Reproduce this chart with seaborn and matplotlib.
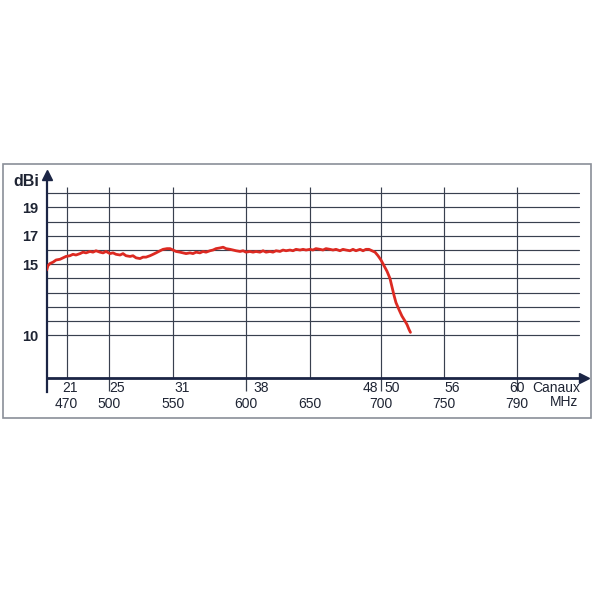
import numpy as np
import pandas as pd
import matplotlib
matplotlib.use("Agg")
import matplotlib.pyplot as plt
import seaborn as sns
from matplotlib.patches import Rectangle

# ---------------- data ----------------
freq_mhz = [455.9, 456.8, 458.2, 460.4, 462.5, 465.3, 467.4, 469.5,
            472.3, 474.4, 476.5, 479.4, 481.5, 483.6, 486.4, 488.5, 490.6, 493.4, 495.6, 497.7,
            500.5, 502.9, 505.2, 508.4, 510.7, 513.0, 516.2, 518.5, 520.9, 524.0, 526.3, 528.7,
            531.8, 534.2, 536.5, 539.7, 542.0, 545.1, 547.5, 549.8,
            551.9, 554.6, 556.7, 558.8, 561.5, 563.6, 565.7, 568.4, 570.5, 572.6, 575.3, 577.4,
            579.5, 582.3, 584.4, 586.4, 589.2, 591.3, 593.3, 596.1, 598.2,
            600.2, 603.3, 605.7, 608.0, 611.1, 613.5, 615.8, 618.9, 621.2, 623.6, 626.7, 629.0,
            631.4, 634.4, 636.8, 639.1, 642.3, 644.6, 646.9,
            650.0, 652.1, 654.2, 657.1, 659.2, 661.3, 664.1, 666.3, 668.4, 671.2, 673.3, 675.5,
            678.3, 680.4, 682.5, 685.4, 687.5, 689.6, 691.7, 693.8, 696.0, 698.1,
            700.2, 702.6, 705.0, 707.3, 708.9, 710.5, 712.0, 714.4, 716.7, 719.1, 720.7, 722.3, 723.4]
gain_dbi = [14.6, 14.9, 15.05, 15.15, 15.3, 15.35, 15.45, 15.55,
            15.6, 15.7, 15.65, 15.75, 15.85, 15.8, 15.9, 15.85, 15.95, 15.85, 15.8, 15.9,
            15.75, 15.8, 15.7, 15.65, 15.75, 15.6, 15.55, 15.6, 15.45, 15.4, 15.5, 15.5,
            15.6, 15.7, 15.8, 15.95, 16.05, 16.1, 16.1, 16.0,
            15.9, 15.85, 15.8, 15.75, 15.8, 15.75, 15.85, 15.8, 15.9, 15.85, 15.95, 16.0,
            16.1, 16.15, 16.2, 16.1, 16.05, 16.0, 15.95, 15.9, 15.95,
            15.85, 15.9, 15.85, 15.9, 15.85, 15.95, 15.85, 15.9, 15.85, 15.95, 15.9, 16.0,
            15.95, 16.0, 15.95, 16.05, 16.0, 16.05, 16.0,
            16.05, 16.0, 16.1, 16.05, 16.0, 16.1, 16.05, 16.0, 16.05, 15.95, 16.05, 16.0,
            15.95, 16.05, 15.95, 16.05, 15.95, 16.05, 16.05, 15.95, 15.85, 15.6,
            15.3, 14.9, 14.5, 14.0, 13.4, 12.8, 12.3, 11.8, 11.35, 11.0, 10.75, 10.4, 10.2]

mhz_ticks = [470, 500, 550, 600, 650, 700, 750, 790]
channel_labels = ["21", "25", "31", "38", "48", "50", "56", "60"]
channel_anchor_mhz = [470, 500, 550, 600, 700, 700, 750, 790]
y_tick_values = [10, 15, 17, 19]
y_grid_values = [10, 11, 12, 13, 14, 15, 16, 17, 18, 19, 20]

# ---------------- layout / style ----------------
# the printed chart has a non-uniform frequency axis: piecewise-linear scale
scale_mhz = [440, 470, 500, 550, 600, 650, 700, 750, 790, 850]
scale_pos = [24.1, 66.7, 109.3, 173.3, 245.7, 310.0, 380.7, 444.3, 517.0, 626.0]
channel_dx_px = [3, 8, 9, 15, -10, 12, 8, 0]
tick_marks_mhz = [500, 600, 700, 790]

NAVY = "#1b2545"
GRID = "#39404f"
RED = "#dc2a22"
TEXT = "#1e2433"

sns.set_style("white")
plt.rcParams["font.family"] = ["Liberation Sans", "DejaVu Sans"]

df = pd.DataFrame({"MHz": freq_mhz, "dBi": gain_dbi})

fig = plt.figure(figsize=(5.96, 6.0), dpi=100)
ax = fig.add_axes([46.7 / 596, 0.3467, (584 - 46.7) / 596, 0.3617])

fwd = lambda x: np.interp(x, scale_mhz, scale_pos)
inv = lambda p: np.interp(p, scale_pos, scale_mhz)
ax.set_xscale("function", functions=(fwd, inv))
ax.set_xlim(455.9, 826.9)
ax.set_ylim(6.0, 21.29)
y_axis_base = 6.95

# grid
for y in y_grid_values:
    ax.axhline(y, xmin=0, xmax=0.9907, color=GRID, lw=0.85, zorder=1)
ax.vlines(mhz_ticks, y_axis_base, 20.46, color=GRID, lw=0.85, zorder=1)
# short tick marks hanging below the axis
ax.vlines(tick_marks_mhz, 6.08, y_axis_base, color=GRID, lw=0.9, zorder=1)

sns.lineplot(data=df, x="MHz", y="dBi", ax=ax, color=RED, lw=2.0, zorder=3,
             sort=False)

# spines
for s in ["top", "right"]:
    ax.spines[s].set_visible(False)
ax.spines["bottom"].set_position(("data", y_axis_base))
ax.spines["bottom"].set_color(NAVY)
ax.spines["bottom"].set_linewidth(2.0)
ax.spines["left"].set_color(NAVY)
ax.spines["left"].set_linewidth(1.6)
ax.plot(0, 1, marker="^", ms=7, color=NAVY, transform=ax.transAxes, clip_on=False, zorder=5)
ax.plot(1, y_axis_base, marker=">", ms=7, color=NAVY,
        transform=ax.get_yaxis_transform(), clip_on=False, zorder=5)

# x ticks (MHz row)
ax.set_xticks(mhz_ticks)
ax.set_xticklabels([str(v) for v in mhz_ticks], fontsize=10, color=TEXT)
ax.tick_params(axis="x", which="major", length=0, pad=13)
ax.tick_params(axis="x", which="minor", length=0)

# channel row
for lab, m, dx in zip(channel_labels, channel_anchor_mhz, channel_dx_px):
    ax.annotate(lab, xy=(m, y_axis_base), xytext=(dx, -9.5), textcoords="offset pixels",
                ha="center", va="center", fontsize=10, color=TEXT)

# y ticks
ax.set_yticks(y_tick_values)
ax.set_yticklabels([str(v) for v in y_tick_values], fontsize=10.5, fontweight="bold", color=TEXT)
ax.tick_params(axis="y", length=0, pad=6)
ax.set_xlabel("")
ax.set_ylabel("")

fig.text(26.5 / 596, 1 - 181 / 600, "dBi", ha="center", va="center",
         fontsize=11.5, fontweight="bold", color=TEXT)
fig.text(580 / 596, 1 - 388 / 600, "Canaux", ha="right", va="center", fontsize=10, color=TEXT)
fig.text(578 / 596, 1 - 402 / 600, "MHz", ha="right", va="center", fontsize=10, color=TEXT)

# outer frame
fig.patches.append(Rectangle((3.3 / 596, 1 - 418 / 600), (590.7 - 3.3) / 596, (418 - 164) / 600,
                             transform=fig.transFigure, fill=False, ec="#8a8f98", lw=1.2))

fig.savefig("out.png", dpi=100, facecolor="white")
